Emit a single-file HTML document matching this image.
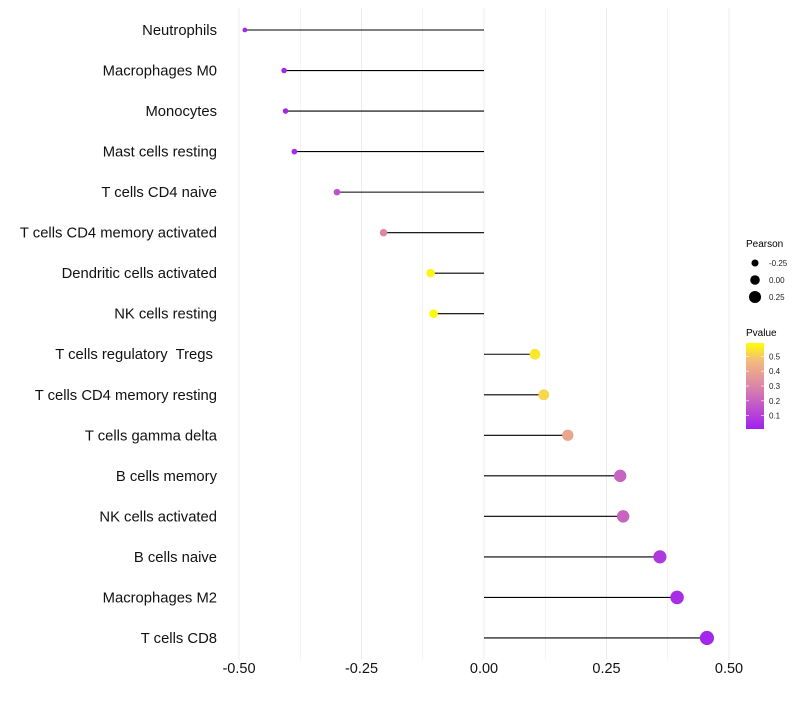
<!DOCTYPE html>
<html><head><meta charset="utf-8"><style>
body{margin:0;background:#fff}
svg text{font-family:"Liberation Sans",sans-serif;white-space:pre}
</style></head><body>
<svg id="chart" width="800" height="700">
<g id="grid"></g>
<g id="marks"></g>
<g id="ylabels"></g>
<g id="xlabels"></g>
<g id="legend">
<defs><linearGradient id="pg" x1="0" y1="1" x2="0" y2="0">
<stop offset="0" stop-color="#a020f0"/><stop offset="0.5" stop-color="#dc86a8"/><stop offset="0.8" stop-color="#f4bc7c"/><stop offset="1" stop-color="#ffff00"/></linearGradient></defs>
<text x="746" y="247" font-size="10">Pearson</text>
<text x="746" y="336" font-size="10">Pvalue</text>
<rect x="746" y="343" width="18" height="86" fill="url(#pg)"/>
</g>
</svg>
<script>
const categories=["Neutrophils","Macrophages M0","Monocytes","Mast cells resting","T cells CD4 naive","T cells CD4 memory activated","Dendritic cells activated","NK cells resting","T cells regulatory  Tregs ","T cells CD4 memory resting","T cells gamma delta","B cells memory","NK cells activated","B cells naive","Macrophages M2","T cells CD8"];
const pearson=[-0.488,-0.408,-0.405,-0.387,-0.300,-0.205,-0.109,-0.103,0.104,0.122,0.171,0.278,0.284,0.359,0.394,0.455];
const pvalue=[0.02,0.03,0.03,0.04,0.15,0.30,0.57,0.58,0.55,0.52,0.40,0.20,0.20,0.08,0.05,0.03];
const xTicks=[-0.5,-0.25,0,0.25,0.5];
const xTickLabels=["-0.50","-0.25","0.00","0.25","0.50"];
const sizeLegend=[-0.25,0,0.25];
const sizeLegendLabels=["-0.25","0.00","0.25"];
const pTicks=[0.1,0.2,0.3,0.4,0.5];

const NS="http://www.w3.org/2000/svg";
const x=v=>484+v*490;
const y=i=>30+i*40.53;
const r=v=>4.8+5*v;
const pmin=0.01,pmax=0.59;
function lerp(a,b,t){return Math.round(a+(b-a)*t);}
const stops=[[0,[160,32,240]],[0.5,[220,134,168]],[0.8,[244,188,124]],[1,[255,255,0]]];
function color(p){
  let t=Math.max(0,Math.min(1,(p-pmin)/(pmax-pmin)));
  for(let k=0;k<stops.length-1;k++){const [t0,a]=stops[k],[t1,b]=stops[k+1];
    if(t<=t1){const u=(t-t0)/(t1-t0);return `rgb(${lerp(a[0],b[0],u)},${lerp(a[1],b[1],u)},${lerp(a[2],b[2],u)})`;}}
  return 'rgb(255,255,0)';
}
function mk(tag,attrs,parent){const e=document.createElementNS(NS,tag);for(const k in attrs)e.setAttribute(k,attrs[k]);parent.appendChild(e);return e;}
const grid=document.getElementById('grid'),marks=document.getElementById('marks'),yl=document.getElementById('ylabels'),xl=document.getElementById('xlabels'),lg=document.getElementById('legend');
for(let k=-4;k<=4;k++){const v=k*0.125;
  const g=mk('line',{x1:x(v),x2:x(v),y1:8,y2:660,stroke:'#ececec','stroke-width':k%2===0?1:0.6},grid);
  
  
}
xTicks.forEach((v,i)=>{const t=mk('text',{x:x(v),y:673,'font-size':14.5,'text-anchor':'middle',fill:'#111'},xl);t.textContent=xTickLabels[i];
  
  });
categories.forEach((c,i)=>{
  const t=mk('text',{x:217,y:y(i)+5,'font-size':14.8,'text-anchor':'end',fill:'#111'},yl);t.textContent=c;
  
  
  const l=mk('line',{x1:x(0),x2:x(pearson[i]),y1:y(i),y2:y(i),stroke:'#000','stroke-width':1.1},marks);
  
  
  const d=mk('circle',{cx:x(pearson[i]),cy:y(i),r:r(pearson[i]),fill:color(pvalue[i])},marks);
  
  
});
sizeLegend.forEach((v,i)=>{const cy=263+i*17;
  const c=mk('circle',{cx:755,cy:cy,r:r(v),fill:'#000'},lg);
  
  
  const t=mk('text',{x:769,y:cy+3,'font-size':8,fill:'#222'},lg);t.textContent=sizeLegendLabels[i];
  
  
});
pTicks.forEach(v=>{const cy=429-(v-pmin)/(pmax-pmin)*86;
  mk('line',{x1:746,x2:749,y1:cy,y2:cy,stroke:'#fff','stroke-width':0.6},lg);
  mk('line',{x1:761,x2:764,y1:cy,y2:cy,stroke:'#fff','stroke-width':0.6},lg);
  const t=mk('text',{x:769,y:cy+3,'font-size':8,fill:'#222'},lg);t.textContent=v.toFixed(1);
  
  
});
</script>
</body></html>
